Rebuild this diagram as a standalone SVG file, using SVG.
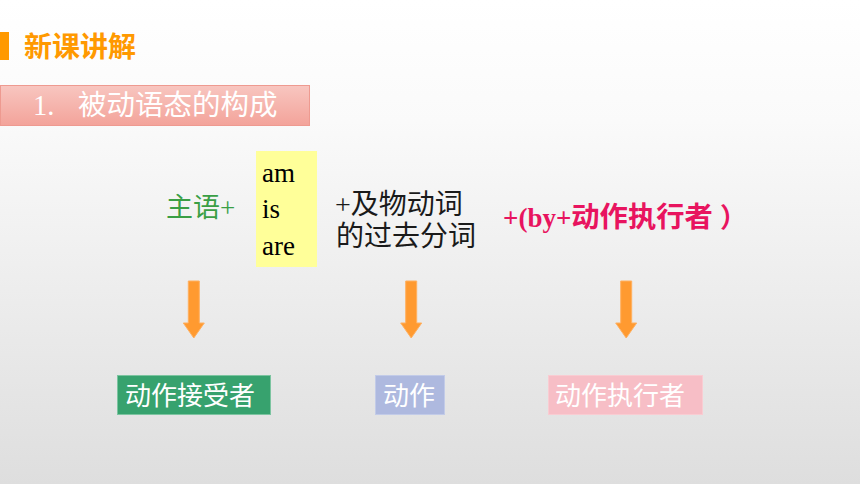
<svg xmlns="http://www.w3.org/2000/svg" width="860" height="484" viewBox="0 0 860 484">
<defs>
<linearGradient id="bg" x1="0" y1="0" x2="0" y2="1">
<stop offset="0" stop-color="#FFFFFF"/>
<stop offset="0.25" stop-color="#FAFAFA"/>
<stop offset="1" stop-color="#DEDEDE"/>
</linearGradient>
<linearGradient id="tb" x1="0" y1="0" x2="0" y2="1">
<stop offset="0" stop-color="#F8C6C0"/>
<stop offset="1" stop-color="#F3A39A"/>
</linearGradient>
<path id="arr" d="M-5.5,0 H5.5 V42 H10.5 L0,57 L-10.5,42 H-5.5 Z"/>
</defs>
<style>
.cjk{font-family:"Liberation Serif","Noto Sans CJK SC",serif;}
.sans{font-family:"Noto Sans CJK SC",sans-serif;}
.arrow{fill:#FF9A30;stroke:#FFB060;stroke-width:1;}
.lbl{font-size:26px;fill:#FFFFFF;}
</style>
<rect width="860" height="484" fill="url(#bg)"/>
<g id="header">
<rect x="0" y="32" width="9" height="28" fill="#FF9900"/>
<text x="24" y="57" class="sans" font-size="28" font-weight="bold" fill="#FF9900">新课讲解</text>
</g>
<g id="title">
<rect x="0.5" y="85.5" width="309" height="40" fill="url(#tb)" stroke="#EE9A90" stroke-width="1"/>
<text y="115" class="cjk" font-size="28.5" fill="#FFFFFF"><tspan x="33">1.</tspan><tspan x="78">被动语态的构成</tspan></text>
</g>
<g id="subject">
<text x="166" y="217" class="cjk" font-size="27" fill="#3A9F45">主语+</text>
</g>
<g id="be">
<rect x="256" y="151" width="61" height="116" fill="#FFFF99"/>
<text class="cjk" font-size="27" fill="#000000"><tspan x="262" y="182">am</tspan><tspan x="262" y="218">is</tspan><tspan x="262" y="255">are</tspan></text>
</g>
<g id="verb">
<text class="cjk" font-size="28" fill="#1A1A1A"><tspan x="335" y="214">+及物动词</tspan><tspan x="336" y="246">的过去分词</tspan></text>
</g>
<g id="agent">
<text y="227" class="cjk" font-size="27" font-weight="bold" fill="#E8145F"><tspan x="503">+(by+</tspan><tspan font-size="28.3">动作执行者</tspan><tspan x="720">）</tspan></text>
</g>
<g id="connectors">
<use href="#arr" class="arrow" x="193.8" y="281"/>
<use href="#arr" class="arrow" x="411.2" y="281"/>
<use href="#arr" class="arrow" x="626.2" y="281"/>
</g>
<g id="receiver">
<rect x="117.5" y="375.5" width="153" height="39" fill="#37A26E" stroke="#7CC4A0" stroke-width="1"/>
<text x="125" y="405" class="cjk lbl">动作接受者</text>
</g>
<g id="action">
<rect x="375.5" y="375.5" width="69" height="39" fill="#AEB9DF" stroke="#C2CBE8" stroke-width="1"/>
<text x="383" y="405" class="cjk lbl">动作</text>
</g>
<g id="doer">
<rect x="548.5" y="375.5" width="154" height="39" fill="#F7BEC6" stroke="#F9CCD2" stroke-width="1"/>
<text x="555" y="405" class="cjk lbl">动作执行者</text>
</g>
</svg>
